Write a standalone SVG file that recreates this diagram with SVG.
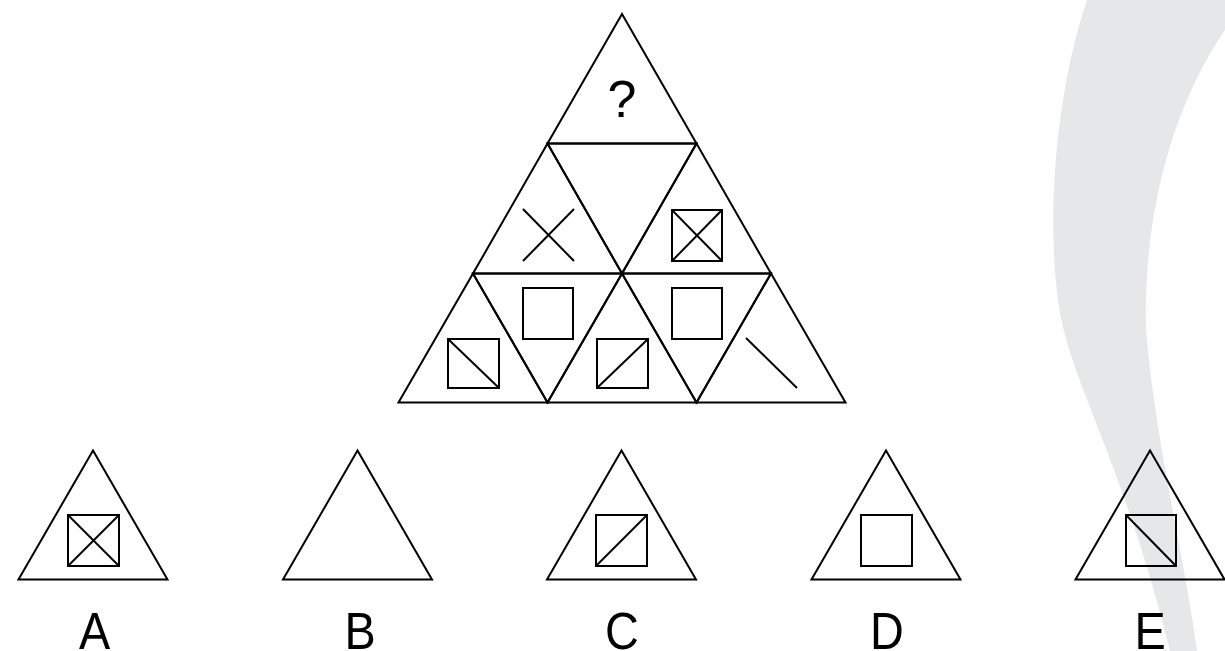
<svg xmlns="http://www.w3.org/2000/svg" width="1225" height="651" viewBox="0 0 1225 651">
<style>
.s{fill:none;stroke:#000;stroke-width:2;stroke-linejoin:miter;stroke-linecap:butt}
.q{fill:none;stroke:#000;stroke-width:2}
.lbl{font-family:"Liberation Sans",Arial,sans-serif;font-size:52px;fill:#000;text-anchor:middle}
.qm{font-family:"Liberation Sans",Arial,sans-serif;font-size:52px;fill:#000;text-anchor:middle}
</style>
<rect width="1225" height="651" fill="#fff"/>
<path id="swoosh" d="M1087,0 C1060,80 1045,200 1058,300 C1068,380 1120,450 1170,651 L1197,651 C1185,560 1155,440 1146,330 C1143,220 1170,110 1225,30 L1225,0 Z" fill="#e6e7e8"/>
<g id="puzzle">
  <g id="cell-top">
    <polygon class="s" points="622,14 547.5,143.5 696.5,143.5"/>
    <text class="qm" x="622" y="117">?</text>
  </g>
  <g id="cell-r2a">
    <polygon class="s" points="547.5,143.5 473,273.5 622,273.5"/>
    <line class="q" x1="523" y1="209" x2="574" y2="261"/>
    <line class="q" x1="574" y1="209" x2="523" y2="261"/>
  </g>
  <g id="cell-r2b">
    <polygon class="s" points="547.5,143.5 696.5,143.5 622,273.5"/>
  </g>
  <g id="cell-r2c">
    <polygon class="s" points="696.5,143.5 622,273.5 771,273.5"/>
    <rect class="q" x="672" y="210" width="50" height="51"/>
    <line class="q" x1="672" y1="210" x2="722" y2="261"/>
    <line class="q" x1="722" y1="210" x2="672" y2="261"/>
  </g>
  <g id="cell-r3a">
    <polygon class="s" points="473,273.5 398.5,402.5 547.5,402.5"/>
    <rect class="q" x="448" y="339" width="51" height="49"/>
    <line class="q" x1="448" y1="339" x2="499" y2="388"/>
  </g>
  <g id="cell-r3b">
    <polygon class="s" points="473,273.5 622,273.5 547.5,402.5"/>
    <rect class="q" x="523" y="288" width="50" height="51"/>
  </g>
  <g id="cell-r3c">
    <polygon class="s" points="622,273.5 547.5,402.5 696.5,402.5"/>
    <rect class="q" x="597" y="339" width="51" height="49"/>
    <line class="q" x1="597" y1="388" x2="648" y2="339"/>
  </g>
  <g id="cell-r3d">
    <polygon class="s" points="622,273.5 771,273.5 696.5,402.5"/>
    <rect class="q" x="672" y="288" width="50" height="51"/>
  </g>
  <g id="cell-r3e">
    <polygon class="s" points="771,273.5 696.5,402.5 845.5,402.5"/>
    <line class="q" x1="746" y1="338" x2="797" y2="388"/>
  </g>
</g>
<g id="option-A">
  <polygon class="s" points="93,450.5 18.5,579.5 167.5,579.5"/>
  <rect class="q" x="68" y="515" width="51" height="51"/>
  <line class="q" x1="68" y1="515" x2="119" y2="566"/>
  <line class="q" x1="119" y1="515" x2="68" y2="566"/>
  <text class="lbl" transform="translate(94.5,649) scale(0.9,1)">A</text>
</g>
<g id="option-B">
  <polygon class="s" points="357.5,450.5 283,579.5 432,579.5"/>
  <text class="lbl" transform="translate(360,649) scale(0.9,1)">B</text>
</g>
<g id="option-C">
  <polygon class="s" points="621.5,450.5 547,579.5 696,579.5"/>
  <rect class="q" x="596" y="515" width="51" height="51"/>
  <line class="q" x1="596" y1="566" x2="647" y2="515"/>
  <text class="lbl" transform="translate(622,649) scale(0.9,1)">C</text>
</g>
<g id="option-D">
  <polygon class="s" points="886,450.5 811.5,579.5 960.5,579.5"/>
  <rect class="q" x="861" y="515" width="51" height="51"/>
  <text class="lbl" transform="translate(887,649) scale(0.9,1)">D</text>
</g>
<g id="option-E">
  <polygon class="s" points="1150,450.5 1075.5,579.5 1224.5,579.5"/>
  <rect class="q" x="1126" y="515" width="50" height="51"/>
  <line class="q" x1="1126" y1="515" x2="1176" y2="566"/>
  <text class="lbl" transform="translate(1150,649) scale(0.9,1)">E</text>
</g>
<g id="connectors"></g>
</svg>
